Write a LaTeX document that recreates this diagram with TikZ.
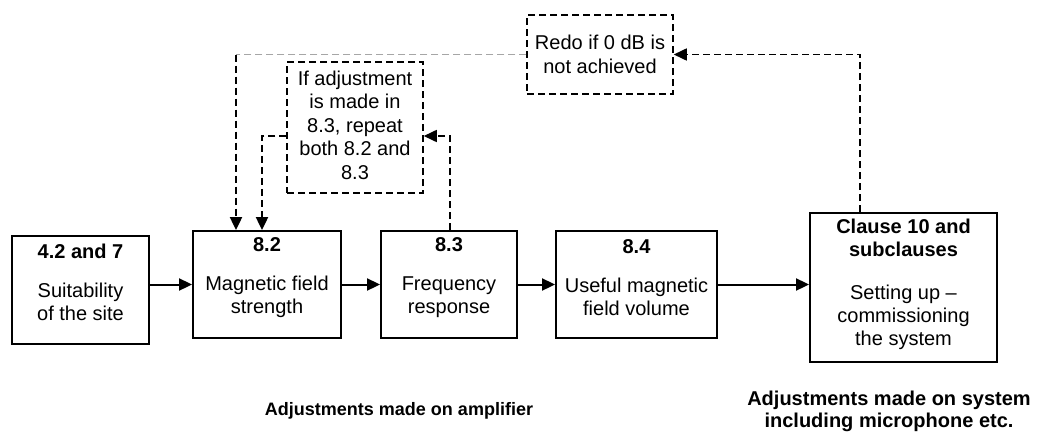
\documentclass[tikz,border=0pt]{standalone}
\usepackage{fontspec}
\setmainfont{Liberation Sans}
\usetikzlibrary{arrows.meta,positioning,calc}
\newcommand{\padbelow}[1]{\rule[-#1]{0pt}{0pt}}

\begin{document}
\begin{tikzpicture}[x=1pt,y=-1pt,
    >={Triangle[length=13pt,width=12pt]},
    blockbox/.style={draw,line width=1.9pt,align=center,inner sep=2pt,font=\fontsize{20}{23}\selectfont},
    notebox/.style={draw,line width=1.5pt,dash pattern=on 7pt off 4pt,align=center,inner sep=2pt,font=\fontsize{20}{23.5}\selectfont},
    flow/.style={->,line width=2pt},
    loopback/.style={->,line width=2.2pt,dash pattern=on 7pt off 4pt},
    caption/.style={font=\bfseries\fontsize{20}{22}\selectfont,align=center}]
    \useasboundingbox (0,0) rectangle (1040,434);
    % main chain
    \node[blockbox,minimum width=137pt,minimum height=108pt] (site) at (80.5,290) {\textbf{4.2 and 7}\\[16pt]Suitability\\of the site\padbelow{16pt}};
    \node[blockbox,minimum width=148pt,minimum height=107pt] (strength) at (267,284.5) {\textbf{8.2}\\[16pt]Magnetic field\\strength\padbelow{17pt}};
    \node[blockbox,minimum width=136pt,minimum height=107pt] (freq) at (449,284.5) {\textbf{8.3}\\[16pt]Frequency\\response\padbelow{17pt}};
    \node[blockbox,minimum width=161pt,minimum height=107pt] (volume) at (636.5,284.5) {\textbf{8.4}\\[16pt]Useful magnetic\\field volume\padbelow{13pt}};
    \node[blockbox,minimum width=187pt,minimum height=149pt] (setup) at (903.5,287.5) {\textbf{Clause 10 and}\\\textbf{subclauses}\\[20pt]Setting up --\\commissioning\\the system\padbelow{11pt}};
    % notes
    \node[notebox,minimum width=146pt,minimum height=79pt] (redo) at (600,54.5) {Redo if 0 dB is\\not achieved};
    \node[notebox,minimum width=136pt,minimum height=131pt] (repeat) at (355,127.5) {If adjustment\\is made in\\8.3, repeat\\both 8.2 and\\8.3\padbelow{5pt}};
    % captions
    \node[caption,font=\bfseries\fontsize{18}{20}\selectfont] (ampcap) at (399,411) {Adjustments made on amplifier};
    \node[caption] (syscap) at (889,411) {Adjustments made on system\\including microphone etc.};
    % entry points on 8.2
    \coordinate (in1) at ([xshift=-31pt]strength.north);
    \coordinate (in2) at ([xshift=-5pt]strength.north);
    \coordinate (turn) at (redo.west -| in1);
    % arrows
    \draw[flow] (site.east |- strength.west) -- (strength.west);
    \draw[flow] (strength.east) -- (freq.west);
    \draw[flow] (freq.east) -- (volume.west);
    \draw[flow] (volume.east) -- (volume.east -| setup.west);
    \draw[loopback,line width=1.6pt] ([xshift=-43.5pt]setup.north) |- (redo.east);
    \draw[line width=1.5pt,gray!70,dash pattern=on 7pt off 4pt] (redo.west) -- (turn);
    \draw[loopback] (turn) -- (in1);
    \draw[loopback] ([yshift=-8.5pt]repeat.west) -| (in2);
    \draw[loopback,line width=1.6pt] ([xshift=1pt]freq.north) |- ([yshift=-8.5pt]repeat.east);
\end{tikzpicture}
\end{document}
